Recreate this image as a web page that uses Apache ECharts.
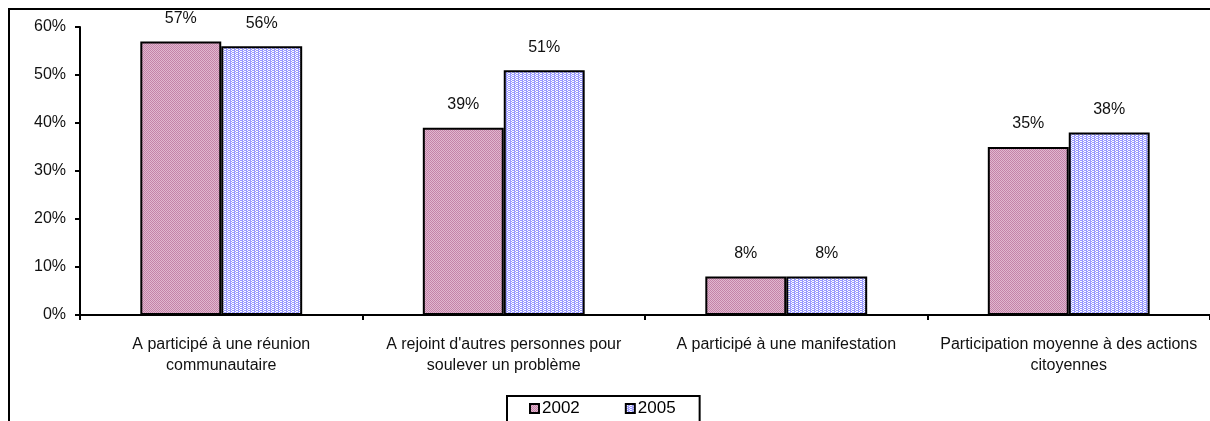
<!DOCTYPE html>
<html>
<head>
<meta charset="utf-8">
<script src="https://cdn.jsdelivr.net/npm/echarts@6/dist/echarts.min.js"></script>
<style>
  html, body { margin: 0; padding: 0; background: #fff; }
  #chart { width: 1210px; height: 421px; }
</style>
</head>
<body>
<div id="chart"></div>
<script>
var categories = [
  'A participé à une réunion\ncommunautaire',
  "A rejoint d'autres personnes pour\nsoulever un problème",
  'A participé à une manifestation',
  'Participation moyenne à des actions\ncitoyennes'
]
var years = ['2002', '2005']
var values2002 = [57, 39, 8, 35]
var values2005 = [56, 51, 8, 38]

// little fill patterns like the old office chart
function makePattern (cells, size) {
  var c = document.createElement('canvas')
  c.width = size
  c.height = size
  var ctx = c.getContext('2d')
  for (var y = 0; y < size; y++) {
    for (var x = 0; x < size; x++) {
      ctx.fillStyle = cells(x, y)
      ctx.fillRect(x, y, 1, 1)
    }
  }
  return { image: c, repeat: 'repeat' }
}
var pink = makePattern(function (x, y) {
  return (x + y) % 2 === 0 ? '#c483a8' : '#e0b8cf'
}, 4)
var blue = makePattern(function (x, y) {
  var on = y % 2 === 0 ? (x % 4 !== 3) : ((x + 2) % 4 < 2)
  return on ? '#9a9aff' : '#ffffff'
}, 4)

var font = 'Liberation Sans, Arial, sans-serif'

var chart = echarts.init(document.getElementById('chart'))
chart.setOption({
  animation: false,
  textStyle: { fontFamily: font },
  graphic: [{
    type: 'rect',
    shape: { x: 9, y: 9, width: 1400, height: 600 },
    style: { fill: 'none', stroke: '#000', lineWidth: 2 },
    silent: true
  }],
  legend: {
    data: years,
    left: 507,
    top: 396,
    orient: 'horizontal',
    itemWidth: 9,
    itemHeight: 9,
    itemGap: 45,
    padding: [4, 24, 12, 22],
    borderColor: '#000',
    borderWidth: 2,
    icon: 'rect',
    textStyle: { fontSize: 17, color: '#000', fontFamily: font, padding: [0, 0, 0, -2] }
  },
  grid: {
    left: 80,
    top: 27,
    width: 1132,
    height: 288
  },
  xAxis: {
    type: 'category',
    data: categories,
    axisLine: { lineStyle: { color: '#000', width: 2 } },
    axisTick: { show: true, length: 5, lineStyle: { color: '#000', width: 2 } },
    axisLabel: {
      color: '#111',
      fontSize: 16,
      lineHeight: 21,
      margin: 19,
      interval: 0,
      fontFamily: font
    }
  },
  yAxis: {
    type: 'value',
    min: 0,
    max: 60,
    interval: 10,
    splitLine: { show: false },
    axisLine: { show: true, lineStyle: { color: '#000', width: 2 } },
    axisTick: { show: true, length: 5, lineStyle: { color: '#000', width: 2 } },
    axisLabel: {
      formatter: '{value}%',
      color: '#111',
      fontSize: 16,
      margin: 14,
      fontFamily: font
    }
  },
  series: [{
    name: years[0],
    type: 'bar',
    data: values2002,
    barGap: '0%',
    barCategoryGap: '42.7%',
    itemStyle: { color: pink, borderColor: '#000', borderWidth: 2 },
    label: {
      show: true,
      position: 'top',
      distance: 15,
      formatter: '{c}%',
      color: '#111',
      fontSize: 16,
      fontFamily: font
    }
  }, {
    name: years[1],
    type: 'bar',
    data: values2005,
    barGap: '0%',
    barCategoryGap: '42.7%',
    itemStyle: { color: blue, borderColor: '#000', borderWidth: 2 },
    label: {
      show: true,
      position: 'top',
      distance: 15,
      formatter: '{c}%',
      color: '#111',
      fontSize: 16,
      fontFamily: font
    }
  }]
})
</script>
</body>
</html>
